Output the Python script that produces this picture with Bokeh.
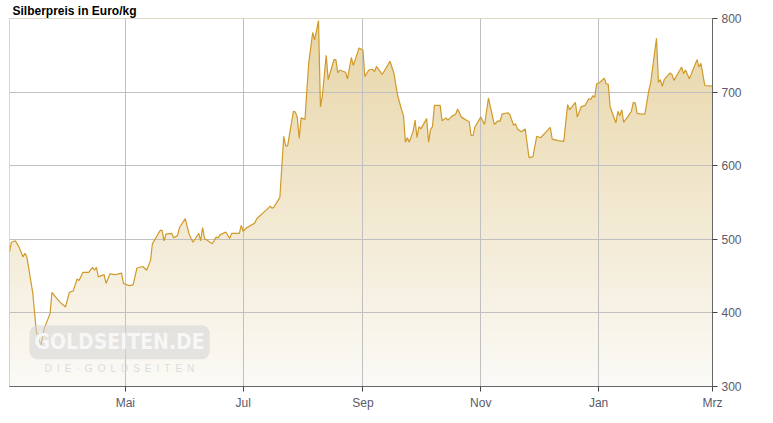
import numpy as np
import pandas as pd
from bokeh.plotting import figure
from bokeh.models import Range1d, FixedTicker, Label
from bokeh.embed import file_html
from bokeh.resources import INLINE

# ---- data (silver price in EUR/kg) ----
dates = [
    "2020-03-02", "2020-03-03", "2020-03-05", "2020-03-07", "2020-03-09", "2020-03-10", "2020-03-11",
    "2020-03-14", "2020-03-16", "2020-03-17", "2020-03-18", "2020-03-20", "2020-03-23", "2020-03-24",
    "2020-03-26", "2020-03-28", "2020-03-31", "2020-04-02", "2020-04-04", "2020-04-06", "2020-04-07",
    "2020-04-09", "2020-04-12", "2020-04-14", "2020-04-15", "2020-04-16", "2020-04-17", "2020-04-20",
    "2020-04-21", "2020-04-23", "2020-04-26", "2020-04-29", "2020-04-30", "2020-05-03", "2020-05-05",
    "2020-05-07", "2020-05-10", "2020-05-12", "2020-05-14", "2020-05-15", "2020-05-17", "2020-05-19",
    "2020-05-20", "2020-05-21", "2020-05-22", "2020-05-25", "2020-05-26", "2020-05-28", "2020-05-29",
    "2020-06-01", "2020-06-03", "2020-06-05", "2020-06-08", "2020-06-09", "2020-06-10", "2020-06-11",
    "2020-06-15", "2020-06-17", "2020-06-18", "2020-06-19", "2020-06-22", "2020-06-24", "2020-06-25",
    "2020-06-29", "2020-06-30", "2020-07-01", "2020-07-03", "2020-07-07", "2020-07-08", "2020-07-13",
    "2020-07-15", "2020-07-16", "2020-07-17", "2020-07-20", "2020-07-22", "2020-07-23", "2020-07-24",
    "2020-07-27", "2020-07-28", "2020-07-29", "2020-07-30", "2020-07-31", "2020-08-02", "2020-08-03",
    "2020-08-04", "2020-08-06", "2020-08-07", "2020-08-09", "2020-08-10", "2020-08-11", "2020-08-13",
    "2020-08-14", "2020-08-17", "2020-08-18", "2020-08-19", "2020-08-20", "2020-08-23", "2020-08-24",
    "2020-08-26", "2020-08-27", "2020-08-30", "2020-09-01", "2020-09-02", "2020-09-04", "2020-09-06",
    "2020-09-07", "2020-09-08", "2020-09-11", "2020-09-15", "2020-09-17", "2020-09-19", "2020-09-21",
    "2020-09-22", "2020-09-23", "2020-09-24", "2020-09-25", "2020-09-27", "2020-09-28", "2020-09-29",
    "2020-09-30", "2020-10-01", "2020-10-04", "2020-10-05", "2020-10-06", "2020-10-07", "2020-10-08",
    "2020-10-11", "2020-10-12", "2020-10-14", "2020-10-15", "2020-10-17", "2020-10-19", "2020-10-20",
    "2020-10-22", "2020-10-25", "2020-10-26", "2020-10-27", "2020-10-28", "2020-10-29", "2020-11-01",
    "2020-11-03", "2020-11-05", "2020-11-08", "2020-11-10", "2020-11-11", "2020-11-12", "2020-11-15",
    "2020-11-16", "2020-11-18", "2020-11-19", "2020-11-20", "2020-11-22", "2020-11-24", "2020-11-26",
    "2020-11-28", "2020-11-30", "2020-12-02", "2020-12-07", "2020-12-08", "2020-12-11", "2020-12-14",
    "2020-12-16", "2020-12-17", "2020-12-20", "2020-12-21", "2020-12-23", "2020-12-25", "2020-12-27",
    "2020-12-28", "2020-12-29", "2020-12-30", "2020-12-31", "2021-01-02", "2021-01-04", "2021-01-05",
    "2021-01-06", "2021-01-07", "2021-01-10", "2021-01-11", "2021-01-12", "2021-01-13", "2021-01-14",
    "2021-01-16", "2021-01-18", "2021-01-19", "2021-01-20", "2021-01-21", "2021-01-23", "2021-01-25",
    "2021-01-27", "2021-01-28", "2021-01-31", "2021-02-01", "2021-02-02", "2021-02-03", "2021-02-04",
    "2021-02-07", "2021-02-08", "2021-02-09", "2021-02-11", "2021-02-13", "2021-02-14", "2021-02-15",
    "2021-02-17", "2021-02-21", "2021-02-22", "2021-02-23", "2021-02-25", "2021-03-01",
]
prices = [
    483, 496, 498, 489, 476, 481, 476,
    428, 372, 371, 353, 379, 399, 428,
    421, 415, 408, 428, 430, 446, 444,
    455, 455, 462, 458, 462, 449, 452,
    440, 453, 452, 454, 440, 437, 438,
    461, 463, 458, 471, 494, 503, 512,
    512, 498, 507, 508, 502, 505, 516,
    528, 507, 496, 508, 498, 516, 501,
    494, 503, 502, 506, 510, 501, 508,
    508, 519, 511, 516, 522, 528, 540,
    545, 542, 544, 557, 640, 627, 627,
    674, 673, 666, 637, 665, 663, 704,
    741, 781, 771, 797, 680, 695, 750,
    717, 744, 744, 726, 730, 727, 718,
    747, 736, 760, 757, 721, 730, 731,
    728, 735, 724, 742, 726, 695, 676,
    668, 632, 638, 632, 647, 662, 638,
    653, 650, 664, 632, 649, 653, 682,
    682, 661, 665, 662, 667, 670, 677,
    666, 661, 660, 641, 641, 653, 666,
    656, 692, 656, 661, 660, 670, 672,
    670, 655, 657, 650, 646, 650, 611,
    612, 640, 638, 652, 636, 634, 633,
    683, 676, 686, 666, 680, 682, 691,
    690, 695, 693, 711, 714, 719, 711,
    711, 680, 658, 674, 668, 676, 659,
    666, 674, 686, 685, 671, 670, 670,
    702, 713, 773, 713, 717, 708, 717,
    726, 724, 716, 725, 734, 725, 730,
    718, 744, 734, 739, 709, 708,
]
month_ticks = ["2020-05-01", "2020-07-01", "2020-09-01", "2020-11-01", "2021-01-01", "2021-03-01"]
month_labels = ["Mai", "Jul", "Sep", "Nov", "Jan", "Mrz"]
y_ticks = [300, 400, 500, 600, 700, 800]
x_start_str, x_end_str = "2020-03-02", "2021-03-01"
y_min, y_max = 300, 800

# ---- derived ----
x = pd.to_datetime(dates)
to_ms = lambda s: int(pd.Timestamp(s).timestamp() * 1000)
x_start, x_end = to_ms(x_start_str), to_ms(x_end_str)
tick_ms = [to_ms(t) for t in month_ticks]

FONT = "Liberation Sans"

p = figure(
    x_axis_type="datetime", y_axis_location="right",
    x_range=Range1d(x_start, x_end), y_range=Range1d(y_min, y_max),
    frame_width=703, frame_height=368,
    min_border_left=9, min_border_right=46, min_border_top=0, min_border_bottom=24,
    output_backend="svg", toolbar_location=None,
    background_fill_color="white", border_fill_color="white",
)
p.outline_line_color = "#c0c0c0"

# title
p.title.text = "Silberpreis in Euro/kg"
p.title.text_font = FONT
p.title.text_font_size = "12px"
p.title.text_font_style = "bold"
p.title.text_color = "#000000"
p.title.align = "left"
p.title.offset = 3
p.title.standoff = 2

# gradient background bands (under the series)
band_lo = np.arange(y_min, y_max, 5)
top_rgb = np.array([232, 213, 166])
bot_rgb = np.array([251, 250, 247])
frac = (band_lo + 2.5 - y_min) / (y_max - y_min)
band_colors = ["#%02x%02x%02x" % tuple(int(round(c)) for c in bot_rgb + (top_rgb - bot_rgb) * f) for f in frac]
p.quad(left=x_start, right=x_end, bottom=band_lo, top=band_lo + 7,
       fill_color=band_colors, line_color=None, level="image")

# white mask above the series
p.varea(x=x, y1=prices, y2=y_max, fill_color="white", level="image")

# price line
p.line(x, prices, line_color="#d09a2a", line_width=1.2)

# grids
p.xgrid.ticker = FixedTicker(ticks=tick_ms)
p.ygrid.ticker = FixedTicker(ticks=y_ticks)
for g in (p.xgrid, p.ygrid):
    g.grid_line_color = "#c0c0c0"
    g.grid_line_width = 1

# axes
p.xaxis.ticker = FixedTicker(ticks=tick_ms)
p.xaxis.major_label_overrides = dict(zip(tick_ms, month_labels))
p.yaxis.ticker = FixedTicker(ticks=y_ticks)
for ax in (p.xaxis, p.yaxis):
    ax.axis_line_color = "#666666"
    ax.major_tick_line_color = "#444444"
    ax.major_tick_out = 5
    ax.major_tick_in = 0
    ax.minor_tick_line_color = None
    ax.major_label_text_font = FONT
    ax.major_label_text_font_size = "12px"
    ax.major_label_text_color = "#5a5a6a"
    ax.major_label_standoff = 4

# watermark
wm_x = to_ms("2020-04-28")
p.add_layout(Label(x=wm_x, y=360, text="GOLDSEITEN.DE", text_align="center", text_baseline="middle",
                   text_font="Liberation Sans Narrow, DejaVu Sans Condensed, sans-serif",
                   text_font_style="bold", text_font_size="21px", text_color="#f7f7f7",
                   background_fill_color="#d4d4d4", background_fill_alpha=0.55,
                   border_radius=8, padding=5))
p.add_layout(Label(x=wm_x, y=324, text="D\u2002I\u2002E\u2002\u00b7\u2002G\u2002O\u2002L\u2002D\u2002S\u2002E\u2002I\u2002T\u2002E\u2002N",
                   text_align="center", text_baseline="middle",
                   text_font=FONT, text_font_size="10px", text_color="#dcdcdc"))

open("out.html", "w").write(file_html(p, INLINE))
